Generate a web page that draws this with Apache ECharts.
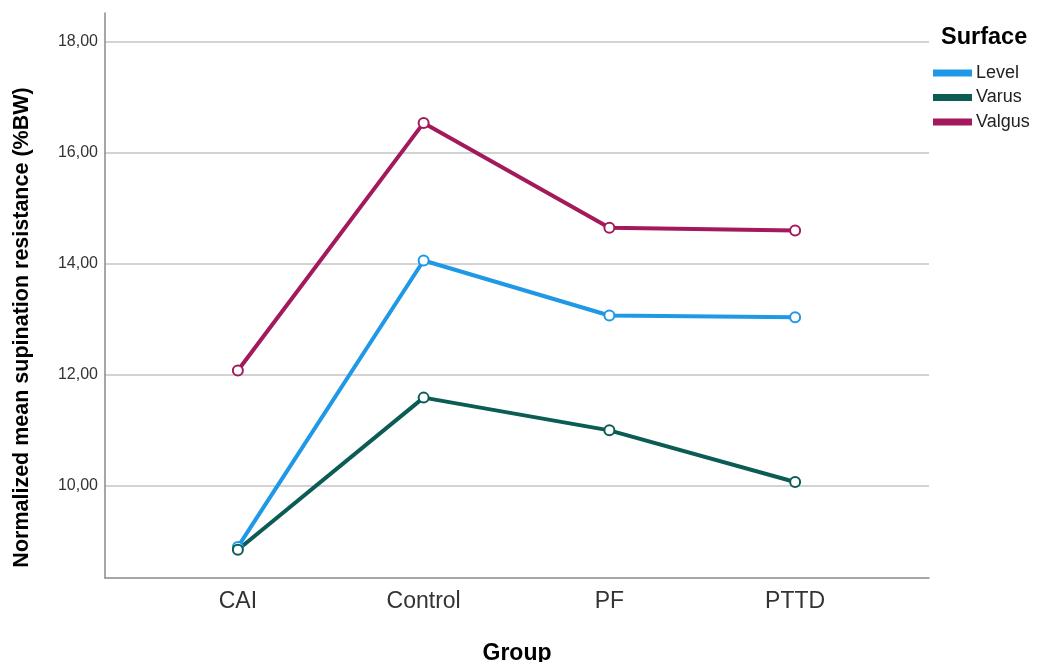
<!DOCTYPE html>
<html>
<head>
<meta charset="utf-8">
<script src="https://cdn.jsdelivr.net/npm/echarts@6/dist/echarts.min.js"></script>
<style>
  html, body { margin: 0; padding: 0; background: #fff; }
  #chart { width: 1037px; height: 662px; }
</style>
</head>
<body>
<div id="chart"></div>
<script>
const categories = ['CAI', 'Control', 'PF', 'PTTD'];
const levelValues = [8.89, 14.05, 13.06, 13.03];
const varusValues = [8.84, 11.58, 10.99, 10.06];
const valgusValues = [12.07, 16.53, 14.64, 14.59];
const yTickValues = [10, 12, 14, 16, 18];
const yMin = 8.33;
const yMax = 18.51;

const FONT = '"Liberation Sans", Arial, sans-serif';
const colors = { Level: '#1f98e6', Varus: '#0c5c56', Valgus: '#a3195b' };

function mkSeries(name, data) {
  return {
    name: name,
    type: 'line',
    xAxisIndex: 1,
    yAxisIndex: 1,
    data: data,
    symbol: 'emptyCircle',
    symbolSize: 10,
    lineStyle: { width: 4, color: colors[name] },
    itemStyle: { color: colors[name], borderColor: colors[name], borderWidth: 1.5 },
    emphasis: { disabled: true },
    animation: false
  };
}

const chart = echarts.init(document.getElementById('chart'), null, { renderer: 'canvas' });
chart.setOption({
  animation: false,
  backgroundColor: '#ffffff',
  textStyle: { fontFamily: FONT },
  title: {
    text: 'Surface',
    left: 941,
    top: 26,
    padding: 0,
    textStyle: { fontFamily: FONT, fontSize: 23.5, fontWeight: 'bold', color: '#000' }
  },
  legend: {
    orient: 'vertical',
    left: 933,
    top: 64,
    padding: 0,
    icon: 'rect',
    itemWidth: 37,
    itemHeight: 5,
    itemGap: 6.5,
    textStyle: { fontFamily: FONT, fontSize: 18, color: '#222' },
    data: ['Level', 'Varus', 'Valgus']
  },
  grid: [
    { left: 105, right: 108, top: 13, bottom: 84, outerBoundsMode: 'none' },
    { left: 145, right: 149, top: 13, bottom: 84, outerBoundsMode: 'none' }
  ],
  xAxis: [
    {
      gridIndex: 0,
      type: 'value',
      min: 0,
      max: 1,
      name: 'Group',
      nameLocation: 'middle',
      nameGap: 64,
      nameTextStyle: { fontFamily: FONT, fontSize: 23, fontWeight: 'bold', color: '#000' },
      axisLine: { show: true, lineStyle: { color: '#8a8a8a', width: 1.5 } },
      axisTick: { show: false },
      axisLabel: { show: false },
      splitLine: { show: false }
    },
    {
      gridIndex: 1,
      type: 'category',
      data: categories,
      boundaryGap: true,
      axisLine: { show: false },
      axisTick: { show: false },
      axisLabel: { fontFamily: FONT, fontSize: 23, color: '#333', margin: 12 },
      splitLine: { show: false }
    }
  ],
  yAxis: [
    {
      gridIndex: 0,
      type: 'value',
      min: yMin,
      max: yMax,
      name: 'Normalized mean supination resistance (%BW)',
      nameLocation: 'middle',
      nameGap: 72,
      nameTextStyle: { fontFamily: FONT, fontSize: 21.5, fontWeight: 'bold', color: '#000', padding: [0, 64, 0, 0] },
      axisLine: { show: true, lineStyle: { color: '#8a8a8a', width: 1.5 } },
      axisTick: { show: false, customValues: yTickValues },
      axisLabel: {
        customValues: yTickValues,
        fontFamily: FONT,
        fontSize: 16,
        color: '#333',
        margin: 7,
        formatter: function (v) { return v.toFixed(2).replace('.', ','); }
      },
      splitLine: { show: true, lineStyle: { color: '#c4c4c4', width: 1.5 } }
    },
    {
      gridIndex: 1,
      type: 'value',
      min: yMin,
      max: yMax,
      show: false,
      splitLine: { show: false }
    }
  ],
  series: [
    mkSeries('Level', levelValues),
    mkSeries('Varus', varusValues),
    mkSeries('Valgus', valgusValues)
  ]
});
</script>
</body>
</html>
